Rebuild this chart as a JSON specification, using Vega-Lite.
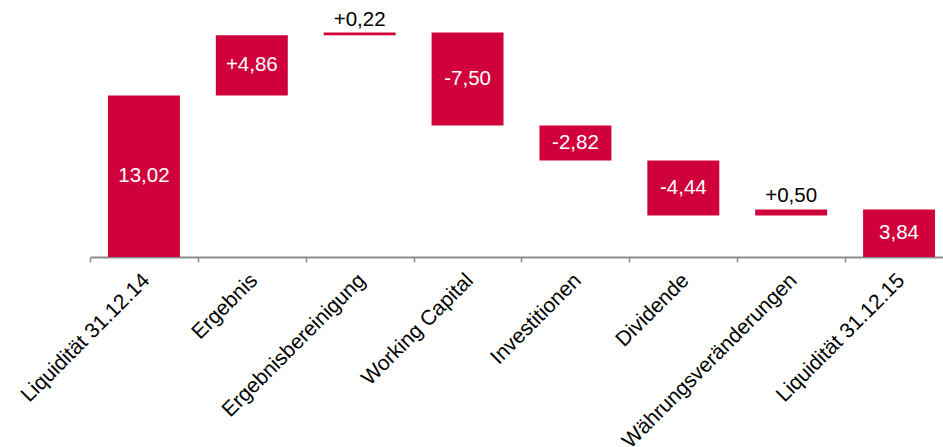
{
  "$schema": "https://vega.github.io/schema/vega-lite/v6.json",
  "width": 853,
  "height": 248,
  "autosize": "none",
  "padding": {"left": 90, "top": 9, "right": 0, "bottom": 190},
  "background": "white",
  "config": {"view": {"stroke": null}, "font": "Liberation Sans"},
  "data": {
    "values": [
      {"category": "Liquidität 31.12.14", "start": 0, "end": 13.02, "label": "13,02"},
      {"category": "Ergebnis", "start": 13.02, "end": 17.88, "label": "+4,86"},
      {"category": "Ergebnisbereinigung", "start": 17.88, "end": 18.10, "label": "+0,22"},
      {"category": "Working Capital", "start": 18.10, "end": 10.60, "label": "-7,50"},
      {"category": "Investitionen", "start": 10.60, "end": 7.78, "label": "-2,82"},
      {"category": "Dividende", "start": 7.78, "end": 3.34, "label": "-4,44"},
      {"category": "Währungsveränderungen", "start": 3.34, "end": 3.84, "label": "+0,50"},
      {"category": "Liquidität 31.12.15", "start": 0, "end": 3.84, "label": "3,84"}
    ]
  },
  "encoding": {
    "x": {
      "field": "category",
      "type": "nominal",
      "sort": null,
      "scale": {"range": [0, 863], "paddingInner": 0.333, "paddingOuter": 0.1665},
      "axis": {
        "title": null,
        "labelAngle": -45,
        "labelAlign": "right",
        "labelBaseline": "middle",
        "labelFontSize": 21,
        "labelColor": "#000000",
        "labelFont": "Liberation Sans",
        "labelPadding": 15,
        "labelOffset": 56,
        "labelOverlap": false,
        "labelLimit": 400,
        "labelBound": false,
        "tickBand": "center",
        "tickOffset": -53.95,
        "tickSize": 5,
        "tickColor": "#8c8c8c",
        "tickWidth": 1.5,
        "domainColor": "#8c8c8c",
        "domainWidth": 2,
        "grid": false
      }
    }
  },
  "layer": [
    {
      "mark": {"type": "bar", "color": "#D0003C"},
      "encoding": {
        "y": {"field": "start", "type": "quantitative", "scale": {"domain": [0, 20], "nice": false, "zero": true}, "axis": null},
        "y2": {"field": "end"}
      }
    },
    {
      "transform": [
        {"filter": "abs(datum.end - datum.start) >= 1"},
        {"fold": ["start", "end"], "as": ["k", "v"]}
      ],
      "mark": {"type": "text", "color": "white", "fontSize": 20.5, "baseline": "middle", "align": "center"},
      "encoding": {
        "y": {"aggregate": "mean", "field": "v", "type": "quantitative"},
        "text": {"field": "label"}
      }
    },
    {
      "transform": [
        {"filter": "abs(datum.end - datum.start) < 1"},
        {"fold": ["start", "end"], "as": ["k", "v"]}
      ],
      "mark": {"type": "text", "color": "black", "fontSize": 20.5, "baseline": "bottom", "align": "center", "dy": -3},
      "encoding": {
        "y": {"aggregate": "max", "field": "v", "type": "quantitative"},
        "text": {"field": "label"}
      }
    }
  ]
}
